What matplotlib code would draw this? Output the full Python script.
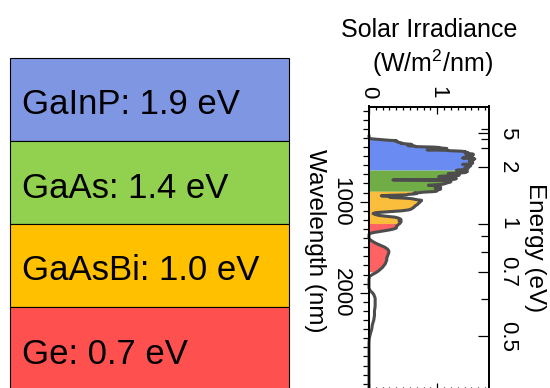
import numpy as np
import matplotlib
matplotlib.use("Agg")
import matplotlib.pyplot as plt
from matplotlib.patches import Rectangle
from matplotlib.ticker import FixedLocator, MultipleLocator

plt.rcParams['font.family'] = ['Liberation Sans', 'DejaVu Sans']
plt.rcParams['mathtext.fontset'] = 'custom'
plt.rcParams['mathtext.rm'] = 'Liberation Sans'
plt.rcParams['mathtext.it'] = 'Liberation Sans:italic'
plt.rcParams['mathtext.bf'] = 'Liberation Sans:bold'

# Multi-junction stack: sub-cell material, band gap and colours
layer_names = ["GaInP", "GaAs", "GaAsBi", "Ge"]
band_gaps_ev = [1.9, 1.4, 1.0, 0.7]
layer_colors = ["#7F96E3", "#92D050", "#FFC000", "#FF5050"]
spectrum_colors = ["#6A8CF2", "#70AD47", "#FBBD3C", "#FF6262"]

# AM1.5G solar spectrum (W/m^2/nm)
wavelength_nm = [
    280, 290, 295, 300, 305, 310, 315, 320, 325, 330, 335, 340, 345, 350, 355,
    360, 365, 370, 375, 380, 385, 390, 395, 400, 405, 410, 415, 420, 425, 430,
    435, 440, 445, 450, 455, 460, 465, 470, 475, 480, 485, 490, 495, 500, 505,
    510, 515, 520, 525, 530, 535, 540, 545, 550, 555, 560, 565, 570, 575, 580,
    585, 590, 595, 600, 605, 610, 615, 620, 625, 630, 635, 640, 645, 650, 655,
    660, 665, 670, 675, 680, 685, 690, 695, 700, 705, 710, 715, 720, 725, 730,
    735, 740, 745, 750, 755, 760, 765, 770, 775, 780, 785, 790, 795, 800, 805,
    810, 815, 820, 825, 830, 835, 840, 845, 850, 855, 860, 865, 870, 875, 880,
    885, 890, 895, 900, 905, 910, 915, 920, 925, 930, 935, 940, 945, 950, 955,
    960, 965, 970, 975, 980, 985, 990, 995, 1000, 1010, 1020, 1030, 1040, 1050,
    1060, 1070, 1080, 1090, 1100, 1110, 1120, 1130, 1140, 1150, 1160, 1170,
    1180, 1190, 1200, 1210, 1220, 1230, 1240, 1250, 1260, 1270, 1280, 1290,
    1300, 1310, 1320, 1330, 1340, 1350, 1360, 1380, 1400, 1420, 1440, 1460,
    1480, 1500, 1520, 1540, 1560, 1580, 1600, 1620, 1640, 1660, 1680, 1700,
    1720, 1740, 1760, 1780, 1800, 1820, 1850, 1900, 1950, 1980, 2000, 2020,
    2040, 2060, 2100, 2150, 2200, 2250, 2300, 2350, 2400, 2450, 2500, 2550,
    2700, 2900, 3000, 3100,
]
irradiance = [
    0.00, 0.00, 0.00, 0.00, 0.01, 0.05, 0.13, 0.20, 0.29, 0.40, 0.39, 0.42, 0.42, 0.44, 0.48,
    0.47, 0.55, 0.62, 0.56, 0.64, 0.58, 0.68, 0.68, 0.95, 1.04, 1.05, 1.14, 1.13, 1.05, 0.85,
    1.12, 1.19, 1.35, 1.41, 1.40, 1.45, 1.42, 1.43, 1.51, 1.53, 1.42, 1.44, 1.52, 1.48, 1.50,
    1.50, 1.41, 1.37, 1.48, 1.55, 1.50, 1.47, 1.52, 1.52, 1.51, 1.47, 1.48, 1.48, 1.52, 1.50,
    1.50, 1.37, 1.45, 1.47, 1.49, 1.48, 1.44, 1.46, 1.42, 1.40, 1.45, 1.44, 1.41, 1.34, 1.28,
    1.42, 1.44, 1.44, 1.41, 1.41, 1.32, 1.16, 1.27, 1.27, 1.32, 1.32, 1.22, 1.06, 1.02, 1.17,
    1.25, 1.27, 1.28, 1.27, 1.24, 0.35, 0.85, 1.14, 1.18, 1.20, 1.19, 1.16, 1.14, 1.12, 1.10,
    1.06, 0.95, 0.87, 0.98, 0.97, 1.04, 1.05, 1.04, 0.98, 0.97, 1.05, 1.02, 1.02, 1.00, 0.99,
    0.99, 0.93, 0.80, 0.74, 0.66, 0.70, 0.66, 0.57, 0.55, 0.30, 0.18, 0.25, 0.33, 0.30, 0.34,
    0.50, 0.60, 0.65, 0.68, 0.72, 0.77, 0.76, 0.76, 0.75, 0.74, 0.72, 0.71, 0.69, 0.67,
    0.66, 0.64, 0.62, 0.58, 0.48, 0.30, 0.10, 0.06, 0.09, 0.14, 0.25, 0.38,
    0.43, 0.46, 0.47, 0.44, 0.47, 0.46, 0.45, 0.43, 0.42, 0.40, 0.40, 0.40,
    0.36, 0.30, 0.22, 0.14, 0.06, 0.01, 0.00, 0.00, 0.00, 0.02, 0.06, 0.11,
    0.17, 0.23, 0.27, 0.29, 0.29, 0.28, 0.27, 0.26, 0.26, 0.25, 0.24, 0.22,
    0.20, 0.17, 0.14, 0.10, 0.05, 0.01, 0.00, 0.00, 0.00, 0.02, 0.05, 0.07,
    0.08, 0.09, 0.09, 0.09, 0.08, 0.08, 0.07, 0.05, 0.04, 0.02, 0.005, 0.00,
    0.00, 0.00, 0.00, 0.00,
]

irr_ticks = [0, 1]
wl_ticks = [1000, 2000]
energy_major = [5, 2, 1, 0.7, 0.5]
energy_minor = [6, 4, 3, 0.9, 0.8, 0.6]
HC = 1239.84  # eV*nm

W, H = 550, 388
fig = plt.figure(figsize=(W / 100, H / 100), dpi=100)

# ---- cell stack drawn in pixel coordinates ----
bg = fig.add_axes([0, 0, 1, 1])
bg.set_xlim(0, W)
bg.set_ylim(H, 0)
bg.axis('off')
box_left, box_right, box_top, box_h = 10, 289, 58, 83
n = len(layer_names)
for i, (name, eg, col) in enumerate(zip(layer_names, band_gaps_ev, layer_colors)):
    top = box_top + i * box_h
    h = box_h if i < n - 1 else H - top + 10
    bg.add_patch(Rectangle((box_left, top), box_right - box_left, h,
                           facecolor=col, edgecolor='black', lw=0.8))
    bg.text(box_left + 12, top + 56.5, f"{name}: {eg:.1f} eV", fontsize=25,
            ha='left', va='baseline', color='black')

# ---- rotated solar spectrum ----
ax_top_px, ax_bot_px = 106.5, 390
ax = fig.add_axes([369 / W, (H - ax_bot_px) / H, 119.5 / W, (ax_bot_px - ax_top_px) / H])
ax.set_xlim(0, 1.75)
ax.set_ylim(3069, -46)

wl = np.asarray(wavelength_nm, dtype=float)
irr = np.asarray(irradiance, dtype=float)
cuts = [wl[0]] + [HC / eg for eg in band_gaps_ev]
for lo, hi, col in zip(cuts[:-1], cuts[1:], spectrum_colors):
    m = (wl > lo) & (wl < hi)
    seg_w = np.concatenate([[lo], wl[m], [hi]])
    seg_i = np.concatenate([[np.interp(lo, wl, irr)], irr[m], [np.interp(hi, wl, irr)]])
    ax.fill_betweenx(seg_w, 0, seg_i, color=col, lw=0, zorder=2)
ax.plot(irr, wl, color='#4D4D4D', lw=2.2, zorder=3, clip_on=False,
        solid_joinstyle='round')

ax.xaxis.set_major_locator(FixedLocator(irr_ticks))
ax.xaxis.set_minor_locator(MultipleLocator(0.1))
ax.tick_params(axis='x', which='both', top=True, bottom=True, labeltop=True,
               labelbottom=False, direction='in', width=0.9)
ax.tick_params(axis='x', which='major', length=5, pad=6, labelsize=16, labelrotation=-90)
ax.tick_params(axis='x', which='minor', length=2.5)

ax.yaxis.set_major_locator(FixedLocator(wl_ticks))
ax.yaxis.set_minor_locator(MultipleLocator(100))
ax.tick_params(axis='y', which='both', left=True, right=False, direction='out', width=0.9)
ax.tick_params(axis='y', which='major', length=6.5, pad=6, labelsize=16, labelrotation=-90)
ax.tick_params(axis='y', which='minor', length=4)
for lbl in ax.get_yticklabels():
    lbl.set_va('center')

ax.set_ylabel('Wavelength (nm)', fontsize=17.5, rotation=-90, ha='center', va='center',
              rotation_mode='anchor')
ax.yaxis.set_label_coords(-0.45, 0.526)

ax_e = ax.twinx()
ax_e.set_ylim(ax.get_ylim())
ax_e.set_yticks([HC / e for e in energy_major])
ax_e.set_yticklabels([f"{e:g}" for e in energy_major])
ax_e.set_yticks([HC / e for e in energy_minor], minor=True)
ax_e.tick_params(axis='y', which='both', direction='in', width=0.9)
ax_e.tick_params(axis='y', which='major', length=8, pad=6, labelsize=16, labelrotation=-90)
ax_e.tick_params(axis='y', which='minor', length=6)
for lbl in ax_e.get_yticklabels():
    lbl.set_va('center')
ax_e.set_ylabel('Energy (eV)', fontsize=17.5, rotation=-90, ha='center', va='center',
                rotation_mode='anchor')
ax_e.yaxis.set_label_coords(1.39, 0.504)

for a in (ax, ax_e):
    for sp in a.spines.values():
        sp.set_linewidth(1.3)

fig.text(429 / W, (H - 37) / H, "Solar Irradiance", ha='center', va='baseline', fontsize=18)
fig.text(432 / W, (H - 72) / H, r"(W/m$^2$/nm)", ha='center', va='baseline', fontsize=18)

fig.savefig("out.png", dpi=100)
